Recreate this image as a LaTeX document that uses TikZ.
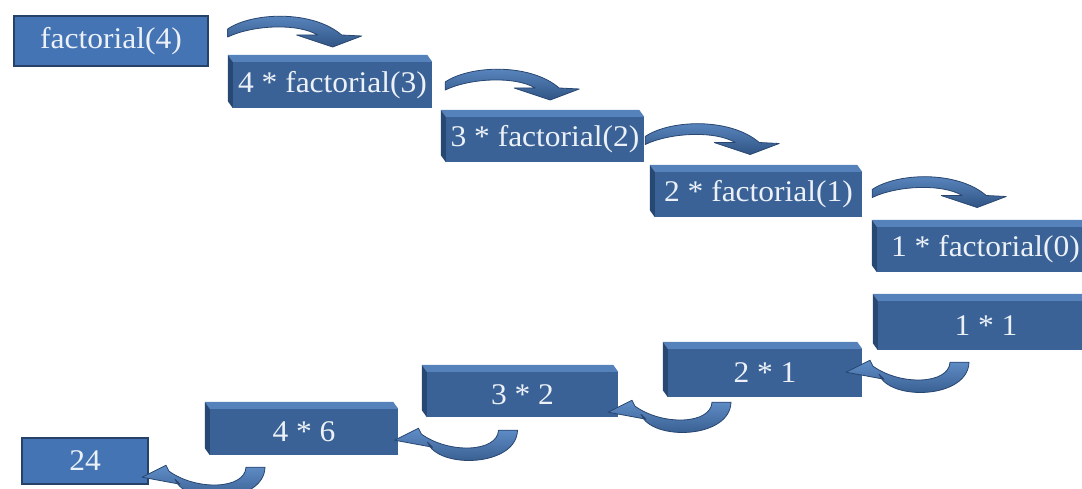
\documentclass[tikz,border=0pt]{standalone}
\usepackage{fontspec}
\setmainfont{Liberation Serif}
\newfontfamily\boxfont[FakeStretch=1.05]{Liberation Serif}
\usetikzlibrary{calc}
\definecolor{frontc}{RGB}{58,98,150}
\definecolor{topc}{RGB}{86,130,188}
\definecolor{sidec}{RGB}{40,72,116}
\definecolor{flatc}{RGB}{68,116,180}
\definecolor{flatb}{RGB}{38,66,105}
\definecolor{txtc}{RGB}{236,241,248}
\definecolor{arrlt}{RGB}{96,142,200}
\definecolor{arrdk}{RGB}{48,84,132}
\definecolor{arrd}{RGB}{40,70,112}
\tikzset{
  front/.style={fill=frontc, draw=none, text=txtc, font=\boxfont\fontsize{30}{36}\selectfont, inner sep=0pt},
  flatbox/.style={fill=flatc, draw=flatb, line width=1.3pt, text=txtc, font=\boxfont\fontsize{30}{36}\selectfont, inner sep=0pt},
  topface/.style={fill=topc},
  sideface/.style={fill=sidec},
  blockarrow/.style={top color=arrlt, bottom color=arrdk, draw=arrd, line width=0.8pt, line join=round},
}
% 3D box: name, overall x1,y1,x2,y2, text
\newcommand{\tdbox}[6]{%
  \node[front, minimum width={#4-#2-5}, minimum height={#5-#3-7}] (#1) at ({(#2+5+#4)/2},{(#3+7+#5)/2}) {#6};
  \fill[topface] (#1.north west) -- (#1.north east) -- ++(-5,-7) -- ($(#1.north west)+(-5,-7)$) -- cycle;
  \fill[sideface] (#1.north west) -- (#1.south west) -- ++(-5,-7) -- ($(#1.north west)+(-5,-7)$) -- cycle;
}
% curved arrow going right and down; tail at #1
\newcommand{\toparrow}[1]{%
  \draw[blockarrow, shift={#1}] (0,-3) .. controls (25,-20) and (85,-22) .. (114,3)
     -- (134,4) -- (105,15) -- (69,3) -- (90,3)
     .. controls (70,-9) and (25,-7) .. (0,5) -- cycle;
}
% curved arrow going down, under and up-left; tail at #1
\newcommand{\botarrow}[1]{%
  \draw[blockarrow, shift={#1}] (10,0) .. controls (9,37) and (-70,39) .. (-80,12)
     -- (-75,17) -- (-113,10) -- (-89,-2) -- (-86,4)
     .. controls (-58,24) and (-10,22) .. (-9,0) -- cycle;
}
\begin{document}
\begin{tikzpicture}[x=1pt,y=-1pt]
\useasboundingbox (0,0) rectangle (1082,489);
\clip (0,0) rectangle (1082,489);
\fill[white] (0,0) rectangle (1082,489);
% descending calls
\node[flatbox, minimum width=194, minimum height=50] (f4) at (111,41) {factorial(4)};
\tdbox{b2}{228}{55}{432}{108}{4 * factorial(3)}
\tdbox{b3}{441}{110}{644}{162}{3 * factorial(2)}
\tdbox{b4}{650}{165}{862}{217}{2 * factorial(1)}
\tdbox{b5}{872}{220}{1094}{272}{1 * factorial(0)}
% returning values
\tdbox{b6}{873}{294}{1094}{350}{1 * 1}
\tdbox{b7}{663}{342}{862}{397}{2 * 1}
\tdbox{b8}{422}{365}{618}{417}{3 * 2}
\tdbox{b9}{205}{402}{398}{455}{4 * 6}
\node[flatbox, minimum width=126, minimum height=46] (r24) at (85,461) {24};
% arrows
\toparrow{($(f4.east)+(19,-9)$)}
\toparrow{($(b2.east)+(13,0)$)}
\toparrow{($(b3.east)+(1,0)$)}
\toparrow{($(b4.east)+(10,-2)$)}
\botarrow{($(b6.south)+(-27,12)$)}
\botarrow{($(b7.south)+(-44,5)$)}
\botarrow{($(b8.south)+(-15,13)$)}
\botarrow{($(b9.south)+(-49,12)$)}
\end{tikzpicture}
\end{document}
